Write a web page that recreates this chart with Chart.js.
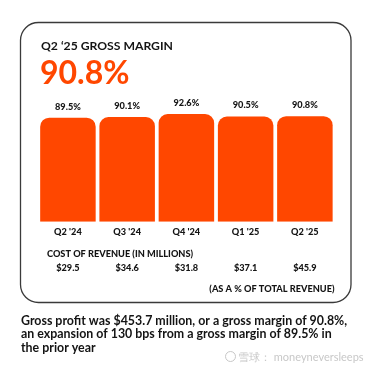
<!DOCTYPE html>
<html>
<head>
<meta charset="utf-8">
<script src="https://cdn.jsdelivr.net/npm/chart.js@4/dist/chart.umd.min.js"></script>
<style>
html,body{margin:0;padding:0;background:#fff;}
#c{display:block;}
</style>
</head>
<body>
<canvas id="c" width="370" height="368"></canvas>
<script>
const quarters = ["Q2 '24", "Q3 '24", "Q4 '24", "Q1 '25", "Q2 '25"];
const grossMargin = [89.5, 90.1, 92.6, 90.5, 90.8];
const costOfRevenue = [29.5, 34.6, 31.8, 37.1, 45.9];
const headline = "90.8%";
const title = "Q2 \u201825 GROSS MARGIN";
const costTitle = "COST OF REVENUE (IN MILLIONS)";
const footnote = "(AS A % OF TOTAL REVENUE)";
const paragraph = [
  "Gross profit was $453.7 million, or a gross margin of 90.8%,",
  "an expansion of 130 bps from a gross margin of 89.5% in",
  "the prior year"
];
const watermark = "\u96ea\u7403\uff1a moneyneversleeps";

const ORANGE = '#ff4700';
const DARK = '#141414';
const FONT = 'Lato, "Open Sans", sans-serif';
const SMALL = '900 9.2px ' + FONT;

function roundRect(ctx, x, y, w, h, r) {
  ctx.beginPath();
  ctx.moveTo(x + r, y);
  ctx.lineTo(x + w - r, y);
  ctx.arcTo(x + w, y, x + w, y + r, r);
  ctx.lineTo(x + w, y + h - r);
  ctx.arcTo(x + w, y + h, x + w - r, y + h, r);
  ctx.lineTo(x + r, y + h);
  ctx.arcTo(x, y + h, x, y + h - r, r);
  ctx.lineTo(x, y + r);
  ctx.arcTo(x, y, x + r, y, r);
  ctx.closePath();
}

const decor = {
  id: 'decor',
  beforeDraw(chart) {
    const ctx = chart.ctx;
    ctx.save();
    ctx.fillStyle = '#fff';
    ctx.fillRect(0, 0, chart.width, chart.height);
    roundRect(ctx, 20.5, 22.5, 330.5, 280, 18);
    ctx.strokeStyle = '#3a3a3a';
    ctx.lineWidth = 1.3;
    ctx.stroke();
    ctx.restore();
  },
  afterDraw(chart) {
    const ctx = chart.ctx;
    const xs = chart.scales.x;
    const meta = chart.getDatasetMeta(0);
    ctx.save();
    ctx.textBaseline = 'middle';
    // title
    ctx.fillStyle = DARK;
    ctx.textAlign = 'left';
    ctx.font = 'bold 12.2px ' + FONT;
    ctx.fillText(title, 41, 46);
    // headline
    ctx.fillStyle = ORANGE;
    ctx.font = 'bold 32px ' + FONT;
    ctx.fillText(headline, 40, 74);
    // value labels
    ctx.fillStyle = DARK;
    ctx.textAlign = 'center';
    ctx.font = SMALL;
    meta.data.forEach((bar, i) => {
      ctx.fillText(grossMargin[i].toFixed(1) + '%', bar.x, bar.y - 11);
    });
    // cost of revenue
    ctx.textAlign = 'left';
    ctx.fillText(costTitle, 47, 254.5);
    ctx.textAlign = 'center';
    costOfRevenue.forEach((v, i) => {
      ctx.fillText('$' + v.toFixed(1), xs.getPixelForValue(i), 268);
    });
    ctx.textAlign = 'right';
    ctx.fillText(footnote, 334.5, 289.5);
    // paragraph
    ctx.textAlign = 'left';
    ctx.font = 'bold 12.4px ' + FONT;
    paragraph.forEach((line, i) => {
      ctx.fillText(line, 21, 320.5 + i * 13.5);
    });
    // watermark
    ctx.fillStyle = '#c8c8c8';
    ctx.font = '11px ' + FONT;
    ctx.beginPath();
    ctx.arc(230.5, 356.5, 5, 0, Math.PI * 2);
    ctx.strokeStyle = '#c8c8c8';
    ctx.lineWidth = 1;
    ctx.stroke();
    ctx.fillText(watermark, 238, 357);
    ctx.restore();
  }
};

new Chart(document.getElementById('c'), {
  type: 'bar',
  data: {
    labels: quarters,
    datasets: [{
      data: grossMargin,
      backgroundColor: ORANGE,
      borderWidth: 0,
      borderSkipped: false,
      borderRadius: {topLeft: 9, topRight: 9, bottomLeft: 0, bottomRight: 0},
      categoryPercentage: 1,
      barPercentage: 0.937
    }]
  },
  options: {
    responsive: false,
    animation: false,
    devicePixelRatio: 1,
    layout: {padding: {left: 38.3, right: 35.5, top: 105.5, bottom: 126.3}},
    plugins: {legend: {display: false}, tooltip: {enabled: false}},
    scales: {
      x: {
        grid: {display: false, drawTicks: false},
        border: {display: false},
        ticks: {
          color: DARK,
          padding: 5,
          font: {family: FONT, size: 9.2, weight: 900}
        },
        afterFit(scale) { scale.height = 20; }
      },
      y: {
        display: false,
        min: 0,
        max: 100
      }
    }
  },
  plugins: [decor]
});
</script>
</body>
</html>
